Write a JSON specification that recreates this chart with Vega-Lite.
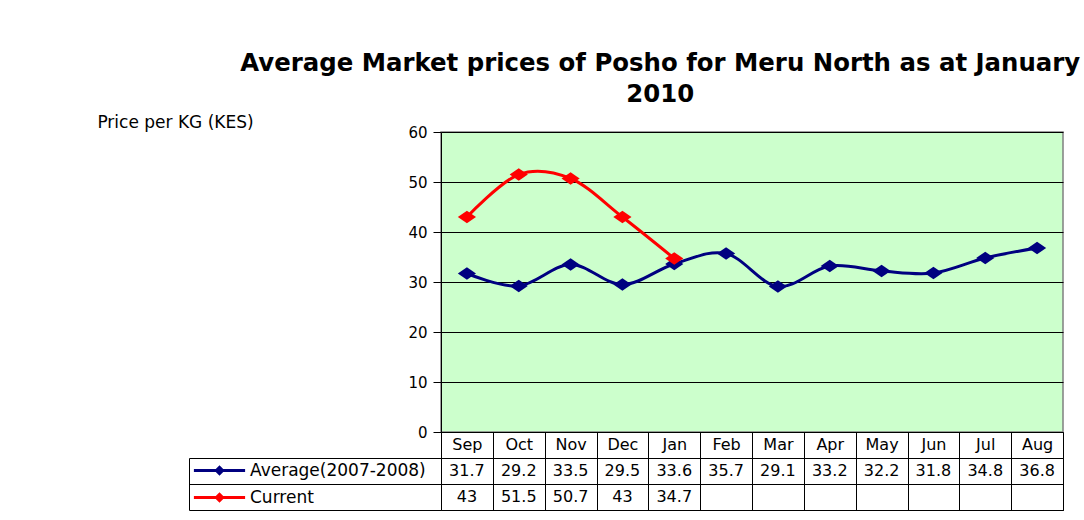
{
  "$schema": "https://vega.github.io/schema/vega-lite/v6.json",
  "background": "white",
  "padding": {"left": 96, "top": 50, "right": 5, "bottom": 5},
  "title": {
    "text": ["Average Market prices of Posho for Meru North as at January", "2010"],
    "font": "DejaVu Sans",
    "fontWeight": "bold",
    "fontSize": 24.4,
    "lineHeight": 31,
    "anchor": "middle",
    "dx": 80,
    "offset": 5,
    "color": "black"
  },
  "config": {
    "font": "DejaVu Sans",
    "view": {"stroke": "black"}
  },
  "data": {
    "values": [
      {"month": "Sep", "series": "Average(2007-2008)", "price": 31.7},
      {"month": "Oct", "series": "Average(2007-2008)", "price": 29.2},
      {"month": "Nov", "series": "Average(2007-2008)", "price": 33.5},
      {"month": "Dec", "series": "Average(2007-2008)", "price": 29.5},
      {"month": "Jan", "series": "Average(2007-2008)", "price": 33.6},
      {"month": "Feb", "series": "Average(2007-2008)", "price": 35.7},
      {"month": "Mar", "series": "Average(2007-2008)", "price": 29.1},
      {"month": "Apr", "series": "Average(2007-2008)", "price": 33.2},
      {"month": "May", "series": "Average(2007-2008)", "price": 32.2},
      {"month": "Jun", "series": "Average(2007-2008)", "price": 31.8},
      {"month": "Jul", "series": "Average(2007-2008)", "price": 34.8},
      {"month": "Aug", "series": "Average(2007-2008)", "price": 36.8},
      {"month": "Sep", "series": "Current", "price": 43},
      {"month": "Oct", "series": "Current", "price": 51.5},
      {"month": "Nov", "series": "Current", "price": 50.7},
      {"month": "Dec", "series": "Current", "price": 43},
      {"month": "Jan", "series": "Current", "price": 34.7}
    ]
  },
  "bounds": "flush",
  "spacing": 26,
  "vconcat": [
    {
      "width": 622,
      "height": 300,
      "view": {"fill": "#ccffcc", "stroke": "#808080", "strokeWidth": 1.5},
      "encoding": {
        "x": {
          "field": "month",
          "type": "ordinal",
          "sort": ["Sep", "Oct", "Nov", "Dec", "Jan", "Feb", "Mar", "Apr", "May", "Jun", "Jul", "Aug"],
          "scale": {"paddingInner": 0, "paddingOuter": 0},
          "axis": {
            "orient": "bottom",
            "title": null,
            "tickBand": "extent",
            "tickSize": 26,
            "tickColor": "black",
            "tickWidth": 1,
            "domainColor": "black",
            "labelPadding": -14,
            "labelBaseline": "middle",
            "labelAngle": 0,
            "labelFontSize": 16,
            "labelColor": "black"
          }
        },
        "y": {
          "field": "price",
          "type": "quantitative",
          "scale": {"domain": [0, 60]},
          "axis": {
            "values": [0, 10, 20, 30, 40, 50, 60],
            "grid": true,
            "gridColor": "black",
            "gridWidth": 1,
            "tickSize": 8,
            "tickColor": "black",
            "domainColor": "black",
            "labelFontSize": 15,
            "labelColor": "black",
            "labelPadding": 6,
            "title": "Price per KG (KES)",
            "titleAngle": 0,
            "titleX": -266,
            "titleY": -10,
            "titleAlign": "center",
            "titleBaseline": "middle",
            "titleFontSize": 17,
            "titleFontWeight": "normal",
            "titleColor": "black"
          }
        },
        "color": {
          "field": "series",
          "type": "nominal",
          "scale": {"domain": ["Average(2007-2008)", "Current"], "range": ["#000080", "#ff0000"]},
          "legend": {
            "orient": "none",
            "legendX": -230,
            "legendY": 330,
            "title": null,
            "symbolType": "M-3.2,-0.19L3.2,-0.19L3.2,0.19L-3.2,0.19Z M-0.65,0L0,-0.65L0.65,0L0,0.65Z",
            "symbolSize": 256,
            "symbolStrokeWidth": 0,
            "labelFontSize": 17,
            "labelColor": "black",
            "labelOffset": 22,
            "labelLimit": 400,
            "rowPadding": 9,
            "padding": 0
          }
        }
      },
      "layer": [
        {"mark": {"type": "line", "interpolate": "cardinal", "strokeWidth": 3}},
        {"mark": {"type": "point", "filled": true, "opacity": 1, "shape": "M-1,0L0,-0.7L1,0L0,0.7Z", "size": 330}}
      ]
    },
    {
      "width": 622,
      "height": 52,
      "view": {"stroke": "black", "fill": "white"},
      "mark": {"type": "text", "fontSize": 16, "color": "black"},
      "encoding": {
        "x": {
          "field": "month",
          "type": "ordinal",
          "sort": ["Sep", "Oct", "Nov", "Dec", "Jan", "Feb", "Mar", "Apr", "May", "Jun", "Jul", "Aug"],
          "scale": {"paddingInner": 0, "paddingOuter": 0},
          "axis": {"orient": "top", "grid": true, "gridColor": "black", "tickBand": "extent", "labels": false, "ticks": false, "domain": false, "title": null}
        },
        "y": {
          "field": "series",
          "type": "nominal",
          "scale": {"domain": ["Average(2007-2008)", "Current"], "paddingInner": 0, "paddingOuter": 0},
          "axis": {"offset": 252, "tickBand": "extent", "tickSize": -252, "tickColor": "black", "domainColor": "black", "labels": false, "title": null, "grid": true, "gridColor": "black"}
        },
        "text": {"field": "price", "type": "quantitative"}
      }
    }
  ]
}
